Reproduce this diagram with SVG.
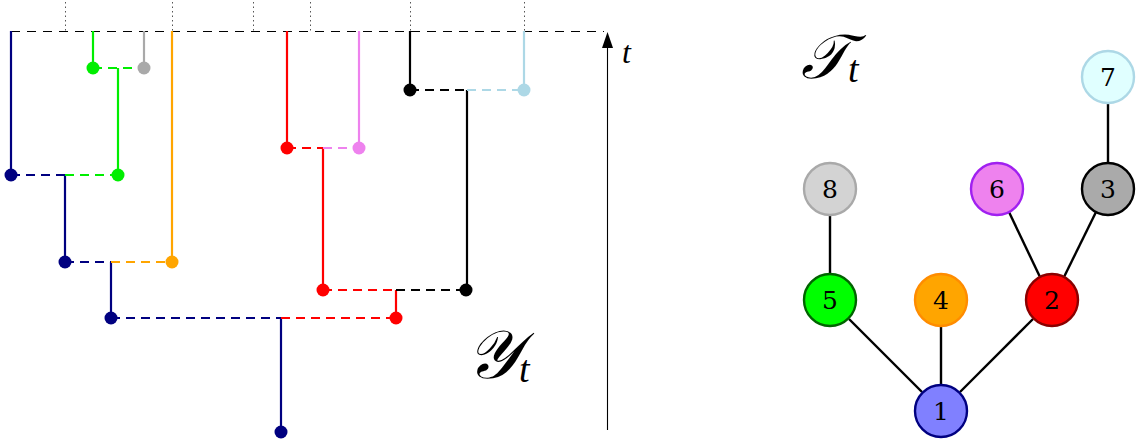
<svg xmlns="http://www.w3.org/2000/svg" width="1140" height="442" viewBox="0 0 1140 442">
<defs>
<style>
.s{fill:none;stroke-width:2.2}
.d{fill:none;stroke-width:2.2;stroke-dasharray:9 6}
.tick{fill:none;stroke:#555;stroke-width:1;stroke-dasharray:1.5 3}
.e{stroke:#000;stroke-width:2.4}
.n{stroke-width:2.4}
.lb{font-family:"DejaVu Serif","Liberation Serif",serif;font-size:25px;text-anchor:middle;fill:#000}
.m{font-family:"Liberation Serif",serif;font-style:italic;fill:#000}
</style>
</defs>
<g id="axis">
<line x1="11" y1="31.5" x2="604" y2="31.5" stroke="#000" stroke-width="1.1" stroke-dasharray="9 7"/>
<line x1="65.5" y1="2" x2="65.5" y2="31" class="tick"/>
<line x1="172.5" y1="2" x2="172.5" y2="31" class="tick"/>
<line x1="253.5" y1="2" x2="253.5" y2="31" class="tick"/>
<line x1="310.5" y1="2" x2="310.5" y2="31" class="tick"/>
<line x1="410.5" y1="2" x2="410.5" y2="31" class="tick"/>
<line x1="524.5" y1="2" x2="524.5" y2="31" class="tick"/>
<line x1="607.5" y1="430" x2="607.5" y2="46" stroke="#000" stroke-width="1.1"/>
<path d="M602,48 L607.5,32 L613,48 Z" fill="#000"/>
<text x="622" y="63" class="m" font-size="32">t</text>
</g>
<g id="lineages">
<path class="s" stroke="#000080" d="M11,31 V175 M65,175 V262 M111,262 V318 M281,318 V432"/>
<path class="d" stroke="#000080" d="M11,175 H65 M65,262 H111 M111,318 H281"/>
<path class="s" stroke="#00ee00" d="M93,31 V68 M118,68 V175"/>
<path class="d" stroke="#00ee00" d="M93,68 H144 M65,175 H118"/>
<path class="s" stroke="#a9a9a9" d="M144,31 V68"/>
<path class="s" stroke="#ffa500" d="M172,31 V262"/>
<path class="d" stroke="#ffa500" d="M111,262 H172"/>
<path class="s" stroke="#ff0000" d="M287,31 V148 M323,148 V290 M396,290 V318"/>
<path class="d" stroke="#ff0000" d="M287,148 H323 M323,290 H396 M281,318 H396"/>
<path class="s" stroke="#ee82ee" d="M359,31 V148"/>
<path class="d" stroke="#ee82ee" d="M323,148 H359"/>
<path class="s" stroke="#000" d="M410,31 V90 M467,90 V290"/>
<path class="d" stroke="#000" d="M410,90 H467 M396,290 H466"/>
<path class="s" stroke="#add8e6" d="M524,31 V90"/>
<path class="d" stroke="#add8e6" d="M467,90 H524"/>
<g fill="#000080"><circle cx="11" cy="175" r="6.5"/><circle cx="65" cy="262" r="6.5"/><circle cx="111" cy="318" r="6.5"/><circle cx="281" cy="432" r="6.5"/></g>
<g fill="#00ee00"><circle cx="93" cy="68" r="6.5"/><circle cx="118" cy="175" r="6.5"/></g>
<circle cx="144" cy="68" r="6.5" fill="#a9a9a9"/>
<circle cx="172" cy="262" r="6.5" fill="#ffa500"/>
<g fill="#ff0000"><circle cx="287" cy="148" r="6.5"/><circle cx="323" cy="290" r="6.5"/><circle cx="396" cy="318" r="6.5"/></g>
<circle cx="359" cy="148" r="6.5" fill="#ee82ee"/>
<g fill="#000"><circle cx="410" cy="90" r="6.5"/><circle cx="466" cy="290" r="6.5"/></g>
<circle cx="524" cy="90" r="6.5" fill="#add8e6"/>
<text x="466" y="378" class="m" font-size="68">𝒴<tspan font-size="38" dy="4">t</tspan></text>
</g>
<text x="801" y="78" class="m" font-size="62">𝒯<tspan font-size="38" dy="4">t</tspan></text>
<g id="edges">
<line class="e" x1="1108" y1="103" x2="1108" y2="163"/>
<line class="e" x1="830" y1="215" x2="830" y2="274"/>
<line class="e" x1="1009" y1="212" x2="1040" y2="277"/>
<line class="e" x1="1096" y1="212" x2="1064" y2="277"/>
<line class="e" x1="849" y1="319" x2="922" y2="392"/>
<line class="e" x1="941" y1="326" x2="941" y2="385"/>
<line class="e" x1="1033" y1="319" x2="960" y2="392"/>
</g>
<g id="n7"><circle class="n" cx="1108" cy="77" r="26" fill="#e0ffff" stroke="#add8e6"/><text class="lb" x="1108" y="86">7</text></g>
<g id="n8"><circle class="n" cx="830" cy="189" r="26" fill="#d3d3d3" stroke="#a9a9a9"/><text class="lb" x="830" y="198">8</text></g>
<g id="n6"><circle class="n" cx="997" cy="189" r="26" fill="#ee82ee" stroke="#a020f0"/><text class="lb" x="997" y="198">6</text></g>
<g id="n3"><circle class="n" cx="1108" cy="189" r="26" fill="#aaaaaa" stroke="#000"/><text class="lb" x="1108" y="198">3</text></g>
<g id="n5"><circle class="n" cx="830" cy="300" r="26" fill="#00ff00" stroke="#006400"/><text class="lb" x="830" y="309">5</text></g>
<g id="n4"><circle class="n" cx="941" cy="300" r="26" fill="#ffa500" stroke="#ff8c00"/><text class="lb" x="941" y="309">4</text></g>
<g id="n2"><circle class="n" cx="1052" cy="300" r="26" fill="#ff0000" stroke="#8b0000"/><text class="lb" x="1052" y="309">2</text></g>
<g id="n1"><circle class="n" cx="941" cy="411" r="26" fill="#8080ff" stroke="#000080"/><text class="lb" x="941" y="420">1</text></g>
</svg>
